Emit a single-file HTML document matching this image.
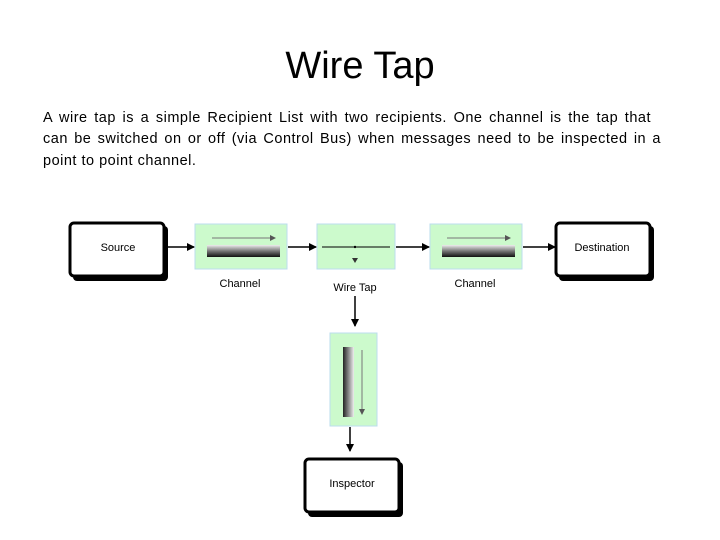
<!DOCTYPE html>
<html><head><meta charset="utf-8"><style>
body{margin:0;width:720px;height:540px;background:#fff;overflow:hidden;position:relative;font-family:"Liberation Sans",sans-serif}
.t{position:absolute;left:0;width:720px;top:45px;text-align:center;font-size:38px;color:#000}
.l{position:absolute;left:43px;font-size:14.5px;line-height:20px;color:#000;white-space:nowrap;text-align:justify;text-align-last:justify;letter-spacing:0.5px}
</style></head><body>
<div class="t">Wire Tap</div>
<div class="l" style="top:108px;width:608px">A wire tap is a simple Recipient List with two recipients. One channel is the tap that</div>
<div class="l" style="top:129px;width:618px">can be switched on or off (via Control Bus) when messages need to be inspected in a</div>
<div class="l" style="top:151px;text-align-last:left">point to point channel.</div>
<svg width="720" height="540" style="position:absolute;left:0;top:0">
<defs>
<linearGradient id="gh" x1="0" y1="0" x2="0" y2="1"><stop offset="0" stop-color="#eee"/><stop offset="0.5" stop-color="#777"/><stop offset="1" stop-color="#111"/></linearGradient>
<linearGradient id="gv" x1="0" y1="0" x2="1" y2="0"><stop offset="0" stop-color="#222"/><stop offset="0.5" stop-color="#888"/><stop offset="1" stop-color="#eee"/></linearGradient>
<marker id="a" markerWidth="8" markerHeight="8" refX="7" refY="4" orient="auto" markerUnits="userSpaceOnUse"><path d="M0,0L8,4L0,8z" fill="#000"/></marker>
</defs>
<g font-size="11" fill="#000">
<rect x="73" y="226" width="95" height="55" rx="4" fill="#000"/>
<rect x="70" y="223" width="94" height="53" rx="4" fill="#fff" stroke="#000" stroke-width="3"/>
<text x="118" y="251" text-anchor="middle">Source</text>
<rect x="559" y="226" width="95" height="55" rx="4" fill="#000"/>
<rect x="556" y="223" width="94" height="53" rx="4" fill="#fff" stroke="#000" stroke-width="3"/>
<text x="602" y="251" text-anchor="middle">Destination</text>
<rect x="308" y="462" width="95" height="55" rx="4" fill="#000"/>
<rect x="305" y="459" width="94" height="53" rx="4" fill="#fff" stroke="#000" stroke-width="3"/>
<text x="352" y="487" text-anchor="middle">Inspector</text>
<rect x="195" y="224" width="92" height="45" fill="#ccfacc" stroke="#bde"/>
<line x1="212" y1="238" x2="275" y2="238" stroke="#777"/><path d="M270,235L276,238L270,241z" fill="#555"/>
<rect x="207" y="245" width="73" height="12" fill="url(#gh)"/>
<rect x="430" y="224" width="92" height="45" fill="#ccfacc" stroke="#bde"/>
<line x1="447" y1="238" x2="510" y2="238" stroke="#777"/><path d="M505,235L511,238L505,241z" fill="#555"/>
<rect x="442" y="245" width="73" height="12" fill="url(#gh)"/>
<rect x="317" y="224" width="78" height="45" fill="#ccfacc" stroke="#bde"/>
<line x1="322" y1="247" x2="390" y2="247" stroke="#000"/><circle cx="355" cy="247" r="1.2"/><path d="M352,258L358,258L355,263z" fill="#333"/>
<rect x="330" y="333" width="47" height="93" fill="#ccfacc" stroke="#bde"/>
<rect x="343" y="347" width="11" height="70" fill="url(#gv)"/>
<line x1="362" y1="350" x2="362" y2="413" stroke="#777"/><path d="M359,409L362,415L365,409z" fill="#555"/>
<g stroke="#000" stroke-width="1.5">
<line x1="166" y1="247" x2="194" y2="247" marker-end="url(#a)"/>
<line x1="288" y1="247" x2="316" y2="247" marker-end="url(#a)"/>
<line x1="396" y1="247" x2="429" y2="247" marker-end="url(#a)"/>
<line x1="523" y1="247" x2="555" y2="247" marker-end="url(#a)"/>
<line x1="355" y1="296" x2="355" y2="326" marker-end="url(#a)"/>
<line x1="350" y1="427" x2="350" y2="451" marker-end="url(#a)"/>
</g>
<text x="240" y="287" text-anchor="middle">Channel</text>
<text x="355" y="291" text-anchor="middle">Wire Tap</text>
<text x="475" y="287" text-anchor="middle">Channel</text>
</g>
</svg>
</body></html>
